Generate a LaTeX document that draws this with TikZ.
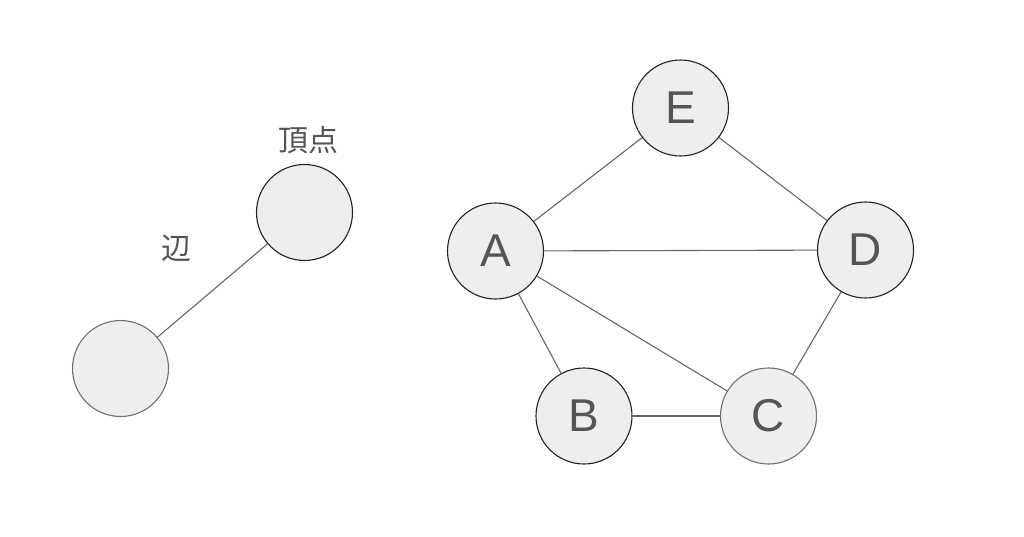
\documentclass[tikz,border=0pt]{standalone}
\usepackage{fontspec}
\setmainfont{Liberation Sans}
\newfontfamily\cjk{Noto Sans CJK JP}
\definecolor{vfill}{HTML}{EEEEEE}
\definecolor{vdark}{HTML}{222222}
\definecolor{vlight}{HTML}{707070}
\definecolor{edgec}{HTML}{666666}
\definecolor{txt}{HTML}{555555}
\begin{document}
\begin{tikzpicture}[x=1pt,y=-1pt,
  vert/.style={circle,draw=vdark,fill=vfill,line width=1.1pt,minimum size=96pt,inner sep=0pt,
    font=\fontsize{46}{46}\selectfont,text=txt},
  vertl/.style={vert,draw=vlight},
  edge/.style={draw=edgec,line width=1.1pt},
  lbl/.style={font=\cjk\fontsize{30}{30}\selectfont,text=txt,inner sep=0pt}]
\useasboundingbox (0,0) rectangle (1024,536);
\node[vert] (t) at (304.5,212.5) {};
\node[vertl] (b) at (120.5,368.5) {};
\node[lbl] (lt) at (308,140) {頂点};
\node[lbl] (le) at (176,248) {辺};
\node[vert] (E) at (680.5,108) {E};
\node[vert] (A) at (495.5,251) {A};
\node[vert] (D) at (865.5,250) {D};
\node[vert] (B) at (584,416) {B};
\node[vertl] (C) at (768.5,416) {C};
\draw[edge] (b) -- (t);
\draw[edge] (A) -- (E);
\draw[edge] (E) -- (D);
\draw[edge] (A) -- (D);
\draw[edge] (A) -- (B);
\draw[edge] (A) -- (C);
\draw[edge] (B) -- (C);
\draw[edge] (C) -- (D);
\end{tikzpicture}
\end{document}
